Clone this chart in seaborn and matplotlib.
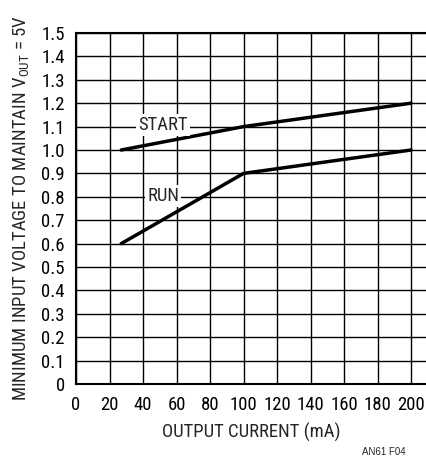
import matplotlib
matplotlib.use("Agg")
import matplotlib.pyplot as plt
import seaborn as sns
import pandas as pd
from matplotlib import font_manager

sns.set_style("white")
fl = font_manager.fontManager.ttflist
names = {f.name for f in fl}
fam = None
stretch = "normal"
for c in ["Liberation Sans Narrow", "Roboto Condensed", "Open Sans Condensed", "Noto Sans Condensed"]:
    if c in names:
        fam = c
        break
if fam is None:
    cond = [f for f in fl if f.name == "DejaVu Sans" and str(f.stretch) in ("condensed", "semi-condensed", "500", "412", "375") and f.style == "normal" and f.weight in (400, "normal", "book", "regular")]
    if cond:
        fam = "DejaVu Sans"
        stretch = "condensed"
    else:
        fam = "Roboto"
plt.rcParams['font.family'] = [fam, 'DejaVu Sans']
plt.rcParams['font.stretch'] = stretch
plt.rcParams['mathtext.fontset'] = 'custom'
plt.rcParams['mathtext.rm'] = fam

# data
start_x = [27, 100, 200]
start_y = [1.0, 1.1, 1.2]
run_x = [27, 100, 200]
run_y = [0.6, 0.9, 1.0]
xticks = [0, 20, 40, 60, 80, 100, 120, 140, 160, 180, 200]
yticks = [0, 0.1, 0.2, 0.3, 0.4, 0.5, 0.6, 0.7, 0.8, 0.9, 1.0, 1.1, 1.2, 1.3, 1.4, 1.5]
ytick_labels = ["0"] + [f"{v:.1f}" for v in yticks[1:]]

df = pd.concat([
    pd.DataFrame({"x": start_x, "y": start_y, "s": "START"}),
    pd.DataFrame({"x": run_x, "y": run_y, "s": "RUN"}),
])

fs = 13.5
fig = plt.figure(figsize=(4.27, 4.68), dpi=100)
ax = fig.add_axes([76/427, 1-384/468, 1-76/427, 351/468])

sns.lineplot(data=df, x="x", y="y", units="s", estimator=None, color="black",
             linewidth=2.5, ax=ax, zorder=3, legend=False)

ax.set_xlim(0, 209.5)
ax.set_ylim(0, 1.5)
ax.set_xticks(xticks)
ax.set_yticks(yticks)
ax.set_yticklabels(ytick_labels)
ax.grid(True, color="black", linewidth=1.0)
ax.tick_params(axis="both", length=0, labelsize=fs, colors="black")
ax.tick_params(axis="x", pad=9)
ax.tick_params(axis="y", pad=8)
for sp in ["left", "bottom", "top"]:
    ax.spines[sp].set_color("black")
    ax.spines[sp].set_linewidth(1.5)
ax.spines["right"].set_visible(False)

ax.set_xlabel("OUTPUT CURRENT (mA)", fontsize=fs, labelpad=6)
ax.set_ylabel(r"MINIMUM INPUT VOLTAGE TO MAINTAIN V$_{\mathrm{OUT}}$ = 5V", fontsize=fs, labelpad=7)

bbox = dict(facecolor="white", edgecolor="none", pad=1.5)
ax.text(52, 1.105, "START", ha="center", va="center", fontsize=fs, bbox=bbox, zorder=4)
ax.text(52, 0.805, "RUN", ha="center", va="center", fontsize=fs, bbox=bbox, zorder=4)

fig.text(406/427, 1-452/468, "AN61 F04", ha="right", va="center", fontsize=7, family=["Liberation Sans", "DejaVu Sans"])

fig.savefig("out.png", dpi=100)
